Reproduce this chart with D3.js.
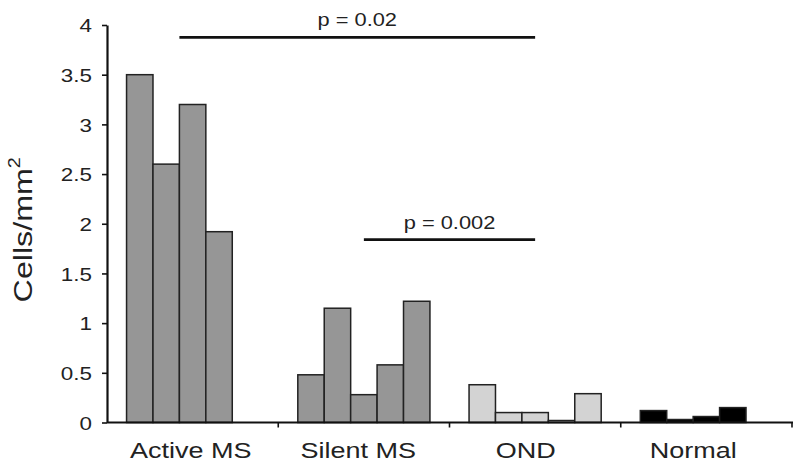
<!DOCTYPE html>
<html><head><meta charset="utf-8">
<script src="https://cdn.jsdelivr.net/npm/d3@7"></script>
<style>
html,body{margin:0;padding:0;background:#fff;}
svg text{font-family:"Liberation Sans",Arial,Helvetica,sans-serif;fill:#222;}
</style></head>
<body><svg id="chart" width="800" height="470"></svg>
<script>
const categories = ["Active MS", "Silent MS", "OND", "Normal"];
const slots = [0, 1, 2, 3, 4];
const activeMS = [3.5, 2.6, 3.2, 1.92, null];
const silentMS = [0.48, 1.15, 0.28, 0.58, 1.22];
const ond = [0.38, 0.1, 0.1, 0.02, 0.29];
const normal = [0.12, 0.03, 0.06, 0.15, null];
const groupValues = [activeMS, silentMS, ond, normal];
const groupColors = ["#969696", "#969696", "#d3d3d3", "#000000"];
const yTicks = [0, 0.5, 1, 1.5, 2, 2.5, 3, 3.5, 4];
const comparisons = [
  {from: "Active MS", to: "OND", y: 3.875, label: "p = 0.02"},
  {from: "Silent MS", to: "OND", y: 1.84, label: "p = 0.002"}
];

(function () {
const svg = d3.select("#chart");
const mLeft = 107, mRight = 792, mTop = 25, mBottom = 422.5;
const sx = 1.18;

const y = d3.scaleLinear().domain([0, 4]).range([mBottom, mTop]);
const x0 = d3.scaleBand().domain(categories).range([mLeft, mRight]).padding(0);
const x1 = d3.scaleBand().domain(slots).range([0, x0.bandwidth()]).paddingInner(0).paddingOuter(0.74);
const xLabel = d3.scaleBand().domain(categories).range([mLeft, 777]);

// bars
const groups = svg.append("g").selectAll("g")
  .data(categories.map((c, i) => ({c, vals: groupValues[i], color: groupColors[i]})))
  .join("g").attr("transform", d => `translate(${x0(d.c)},0)`);
groups.selectAll("rect")
  .data(d => d.vals.map((v, j) => ({v, j, color: d.color})).filter(e => e.v !== null))
  .join("rect")
  .attr("x", e => x1(e.j))
  .attr("width", x1.bandwidth())
  .attr("y", e => y(e.v))
  .attr("height", e => y(0) - y(e.v))
  .attr("fill", e => e.color)
  .attr("stroke", "#222")
  .attr("stroke-width", 1.5);

// y axis
const yAxis = svg.append("g").attr("transform", `translate(${mLeft},0)`)
  .call(d3.axisLeft(y).tickValues(yTicks).tickFormat(d => String(d)).tickSize(5).tickSizeOuter(0));
yAxis.select(".domain").attr("stroke", "#111").attr("stroke-width", 2.2);
yAxis.selectAll(".tick line").attr("stroke", "#111").attr("stroke-width", 1.6);
yAxis.selectAll(".tick text")
  .attr("font-size", 19).attr("font-family", null).attr("fill", "#333")
  .attr("x", -15 / sx).attr("dy", "0.35em")
  .attr("transform", `scale(${sx},1)`);

// x axis line
svg.append("line").attr("x1", mLeft).attr("x2", mRight + 1).attr("y1", y(0)).attr("y2", y(0))
  .attr("stroke", "#111").attr("stroke-width", 2.2);
// boundary ticks
svg.append("g").selectAll("line").data(categories)
  .join("line")
  .attr("x1", c => x0(c) + x0.bandwidth()).attr("x2", c => x0(c) + x0.bandwidth())
  .attr("y1", y(0)).attr("y2", y(0) + 5)
  .attr("stroke", "#111").attr("stroke-width", 1.6);

// category labels
svg.append("g").selectAll("text").data(categories)
  .join("text")
  .attr("transform", c => `translate(${xLabel(c) + xLabel.bandwidth() / 2},${y(0) + 35.5}) scale(1.2,1)`)
  .attr("text-anchor", "middle")
  .attr("font-size", 22.5)
  .attr("fill", "#333")
  .text(c => c);

// y label
const yl = svg.append("text")
  .attr("transform", `translate(32,${(mTop + mBottom) / 2 + 6}) rotate(-90) scale(1.24,1)`)
  .attr("text-anchor", "middle")
  .attr("font-size", 26)
  .attr("fill", "#333");
yl.append("tspan").text("Cells/mm");
yl.append("tspan").attr("font-size", 16).attr("dy", "-0.75em").text("2");

// significance lines
function groupCenter(c) {
  const i = categories.indexOf(c);
  const vals = groupValues[i];
  const idx = vals.map((v, j) => v !== null ? j : -1).filter(j => j >= 0);
  const a = x0(c) + x1(idx[0]);
  const b = x0(c) + x1(idx[idx.length - 1]) + x1.bandwidth();
  return (a + b) / 2;
}
const sig = svg.append("g").selectAll("g").data(comparisons).join("g");
sig.append("line")
  .attr("x1", d => groupCenter(d.from)).attr("x2", d => groupCenter(d.to))
  .attr("y1", d => y(d.y)).attr("y2", d => y(d.y))
  .attr("stroke", "#111").attr("stroke-width", 2.8);
sig.append("text")
  .attr("transform", d => `translate(${(groupCenter(d.from) + groupCenter(d.to)) / 2},${y(d.y) - 11}) scale(${sx},1)`)
  .attr("text-anchor", "middle")
  .attr("font-size", 18.5)
  .attr("fill", "#333")
  .text(d => d.label);
})();
</script></body></html>
